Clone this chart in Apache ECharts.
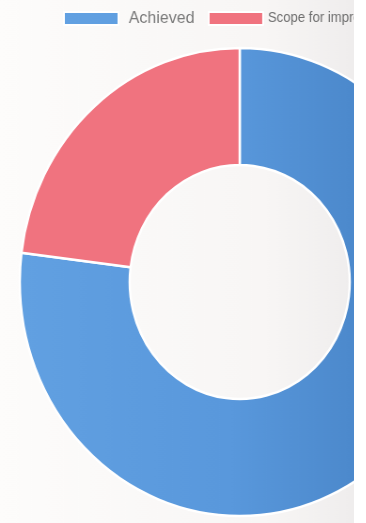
<!DOCTYPE html>
<html>
<head>
<meta charset="utf-8">
<script src="https://cdn.jsdelivr.net/npm/echarts@6/dist/echarts.min.js"></script>
<style>
  html, body { margin: 0; padding: 0; background: #ffffff; }
  #frame { width: 354px; height: 523px; overflow: hidden; }
  /* the chart is drawn slightly wider, then squeezed horizontally */
  #chart { width: 377px; height: 523px; transform: scaleX(0.94); transform-origin: 0 0; }
</style>
</head>
<body>
<div id="frame"><div id="chart"></div></div>
<script>
// Progress split shown as a doughnut
const categories = ['Achieved', 'Scope for improvement'];
const values = [77, 23];
const sliceColors = [
  {
    type: 'linear', x: 0, y: 0, x2: 377, y2: 0, global: true,
    colorStops: [
      { offset: 0, color: '#62a1e2' },
      { offset: 0.65, color: '#5998dc' },
      { offset: 1, color: '#4c89cc' }
    ]
  },
  '#f0737f'
];

const chart = echarts.init(document.getElementById('chart'), null, { renderer: 'canvas' });

chart.setOption({
  animation: false,
  backgroundColor: {
    type: 'linear', x: 0, y: 0, x2: 1, y2: 0,
    colorStops: [
      { offset: 0, color: '#fdfcfb' },
      { offset: 0.75, color: '#f8f6f5' },
      { offset: 1, color: '#efeded' }
    ]
  },
  legend: {
    left: 67,
    top: 10,
    padding: 0,
    width: 900,
    orient: 'horizontal',
    itemWidth: 58,
    itemHeight: 13,
    itemGap: 14,
    icon: 'rect',
    data: categories,
    formatter: name => (name === categories[0] ? '{a|' : '{b|') + name + '}',
    textStyle: {
      color: '#7a7a7a',
      rich: {
        a: {
          fontFamily: 'Liberation Sans, Arial, sans-serif',
          fontSize: 17,
          color: '#7a7a7a',
          padding: [0, 0, 0, 6]
        },
        b: {
          fontFamily: 'Liberation Sans, Arial, sans-serif',
          fontSize: 14,
          color: '#6e6e6e'
        }
      }
    }
  },
  series: [{
    type: 'pie',
    center: [255, 282],
    radius: [117, 234],
    startAngle: 90,
    clockwise: true,
    label: { show: false },
    labelLine: { show: false },
    itemStyle: { borderColor: '#ffffff', borderWidth: 2.5 },
    data: categories.map((name, i) => ({
      name,
      value: values[i],
      itemStyle: { color: sliceColors[i] }
    }))
  }]
});
</script>
</body>
</html>
